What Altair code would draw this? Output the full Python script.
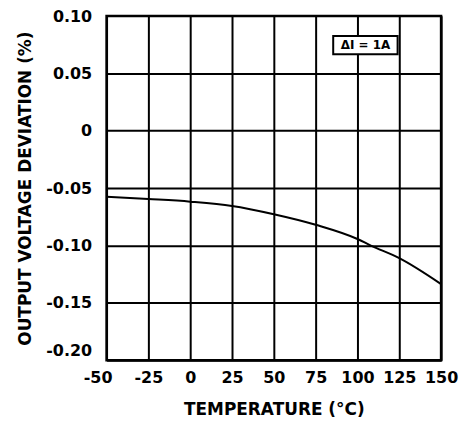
import altair as alt
import pandas as pd

temps = [-50, -25, 0, 25, 50, 75, 100, 108, 125, 150]
deviation = [-0.0575, -0.0595, -0.0618, -0.0655, -0.0727, -0.0819, -0.0943, -0.100, -0.111, -0.1336]

x_ticks = [-50, -25, 0, 25, 50, 75, 100, 125, 150]
y_ticks = [-0.20, -0.15, -0.10, -0.05, 0, 0.05, 0.10]
y_labels = ["-0.20", "-0.15", "-0.10", "-0.05", "0", "0.05", "0.10"]

note_text = ["ΔI = 1A"]
note_box_x = [85.5, 124]
note_box_y = [0.0825, 0.0665]

FONT = "DejaVu Sans"

df = pd.DataFrame({"t": temps, "v": deviation})

label_map = "{" + ",".join(f'"{round(v * 100)}":"{l}"' for v, l in zip(y_ticks, y_labels)) + "}"

xscale = alt.Scale(domain=[-50, 150], nice=False, zero=False)
yscale = alt.Scale(domain=[-0.2, 0.1], nice=False, zero=False)

xaxis = alt.Axis(values=x_ticks, title="TEMPERATURE (°C)", grid=True, gridColor="black",
                 gridWidth=2, gridOpacity=1, ticks=False, domain=False, labelPadding=9,
                 labelExpr="toString(datum.value)",
                 labelOffset={"condition": [{"test": "datum.value < -40", "value": -9}],
                              "value": 0},
                 labelFont=FONT, labelFontSize=16, labelFontWeight="bold", labelColor="black",
                 titleFont=FONT, titleFontSize=17, titleFontWeight="bold", titleColor="black",
                 titlePadding=16, labelFlush=False)
yaxis = alt.Axis(values=y_ticks, title="OUTPUT VOLTAGE DEVIATION (%)", grid=True, gridColor="black",
                 gridWidth=2, gridOpacity=1, ticks=False, domain=False, labelPadding=15,
                 labelExpr=f"{label_map}[toString(round(datum.value * 100))]",
                 labelOffset={"condition": [{"test": "datum.value < -0.19", "value": -10},
                                            {"test": "datum.value > 0.09", "value": 1}],
                              "value": 0},
                 labelFont=FONT, labelFontSize=16, labelFontWeight="bold", labelColor="black",
                 titleFont=FONT, titleFontSize=17, titleFontWeight="bold", titleColor="black",
                 titlePadding=11, labelFlush=False)

line = alt.Chart(df).mark_line(color="black", strokeWidth=2, interpolate="monotone").encode(
    x=alt.X("t:Q", scale=xscale, axis=xaxis),
    y=alt.Y("v:Q", scale=yscale, axis=yaxis),
)

box_df = pd.DataFrame({"x1": [note_box_x[0]], "x2": [note_box_x[1]],
                       "y1": [note_box_y[0]], "y2": [note_box_y[1]], "txt": note_text})
box = alt.Chart(box_df).mark_rect(fill="white", stroke="black", strokeWidth=2).encode(
    x=alt.X("x1:Q", scale=xscale), x2="x2:Q",
    y=alt.Y("y1:Q", scale=yscale), y2="y2:Q",
)
text = alt.Chart(box_df).transform_calculate(
    xm="(datum.x1 + datum.x2) / 2", ym="(datum.y1 + datum.y2) / 2"
).mark_text(font=FONT, fontSize=12, fontWeight="bold", color="black", baseline="middle", align="center").encode(
    x=alt.X("xm:Q", scale=xscale), y=alt.Y("ym:Q", scale=yscale), text="txt:N"
)

chart = alt.layer(line, box, text).properties(
    width=336, height=346,
    autosize=alt.AutoSizeParams(type="none"),
    padding={"left": 99, "top": 7, "right": 20, "bottom": 60},
    background="white",
).configure_view(stroke="black", strokeWidth=2.5)

chart.save("out.html", embed_options={"renderer": "svg", "actions": False})
